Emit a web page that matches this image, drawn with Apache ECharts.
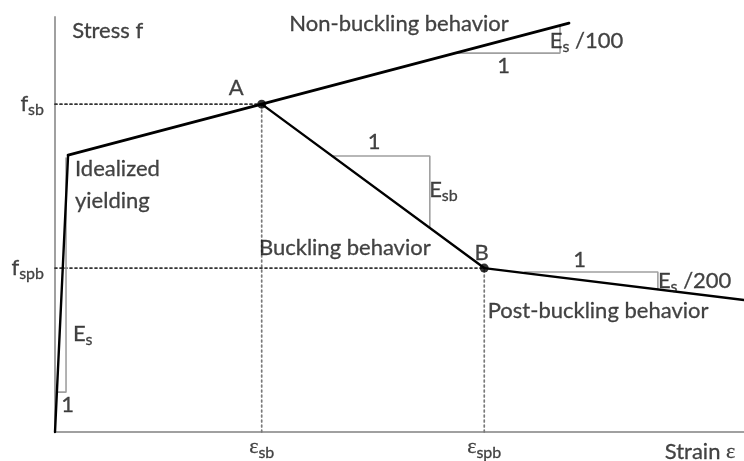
<!DOCTYPE html>
<html>
<head>
<meta charset="utf-8">
<script src="https://cdn.jsdelivr.net/npm/echarts@6/dist/echarts.min.js"></script>
<style>
html, body { margin: 0; padding: 0; background: #fff; }
#chart { width: 744px; height: 461px; }
</style>
</head>
<body>
<div id="chart"></div>
<script>
// Idealized stress-strain model of a steel bar, normalized units (0..100 on both axes)
const elasticBranch = [[0, 0], [1.9, 66.7]];
const hardeningBranch = [[1.9, 66.7], [30, 79], [74.6, 98.5]];
const bucklingBranch = [[30, 79], [62.3, 39.5]];
const postBucklingBranch = [[62.3, 39.5], [100, 31.8]];
const keyPoints = [['A', 30, 79], ['B', 62.3, 39.5]];

// slope triangles: run start, corner, rise end
const slopeEs = [[0.3, 9.6], [1.6, 9.6], [1.6, 66]];
const slopeEsb = [[40.2, 66.5], [54.4, 66.5], [54.4, 49.2]];
const slopeEs100 = [[58.1, 91.3], [73.3, 91.3], [73.3, 97.9]];
const slopeEs200 = [[68.2, 38.55], [87.5, 38.55], [87.5, 34.35]];

// axis tick labels: rich main token, main symbol, subscript, value
const stressTicks = [['t', 'f', 'sb', 79], ['t', 'f', 'spb', 39.5]];
const strainTicks = [['g', 'ε', 'sb', 30], ['g', 'ε', 'spb', 62.3]];

// text annotations: rich text, x, y, align
const annotations = [
  ['Stress f', 2.5, 96.7, 'left'],
  ['Non-buckling behavior', 34, 98.3, 'left'],
  ['A', 26.3, 83.0, 'center'],
  ['B', 61.9, 43.2, 'center'],
  ['Idealized', 2.9, 63.5, 'left'],
  ['yielding', 2.9, 55.7, 'left'],
  ['Buckling behavior', 29.6, 44.4, 'left'],
  ['Post-buckling behavior', 62.8, 29.2, 'left'],
  ['{t|Strain }{g|ε}', 88.5, -4.8, 'left'],
  ['{t|1}', 45.4, 70.0, 'left'],
  ['{t|E}{s|sb}', 54.3, 58.3, 'left'],
  ['{t|1}', 64.2, 88.3, 'left'],
  ['{t|E}{s|s}{t| /100}', 71.8, 94.2, 'left'],
  ['{t|1}', 75.2, 41.4, 'left'],
  ['{t|E}{s|s}{t| /200}', 87.5, 36.4, 'left'],
  ['{t|E}{s|s}', 2.6, 23.6, 'left'],
  ['{t|1}', 0.9, 6.6, 'left']
];

const FONT = 'Lato, "Noto Sans", sans-serif';
const TEXT = '#151515';
const GRAY = '#a0a0a0';

const ink = { color: TEXT, textBorderColor: TEXT, textBorderWidth: 0.3 };
const rich = {
  t: Object.assign({ fontFamily: FONT, fontSize: 22, lineHeight: 24 }, ink),
  g: Object.assign({ fontFamily: '"Liberation Serif", serif', fontSize: 22, lineHeight: 24 }, ink),
  s: Object.assign({ fontFamily: FONT, fontSize: 16, lineHeight: 16, padding: [12, 0, 0, 0] }, ink)
};

function lineSeries(data, color, width, type) {
  return {
    type: 'line', data: data, showSymbol: false, symbol: 'none', silent: true,
    lineStyle: { color: color, width: width, type: type || 'solid', cap: 'round' },
    z: 3
  };
}

const series = [];

// dotted guides from A and B to the axes
keyPoints.forEach(function (p) {
  series.push(lineSeries([[0, p[2]], [p[1], p[2]]], '#333', 1.7, [2, 3]));
  series.push(lineSeries([[p[1], 0], [p[1], p[2]]], '#7a7a7a', 1.7, [2, 3]));
});

// slope triangles
[slopeEs, slopeEsb, slopeEs100, slopeEs200].forEach(function (t) {
  series.push(lineSeries(t, GRAY, 1.6));
});

// stress-strain branches
series.push(lineSeries(elasticBranch, '#000', 2.4));
series.push(lineSeries(hardeningBranch, '#000', 2.8));
series.push(lineSeries(bucklingBranch, '#000', 2.4));
series.push(lineSeries(postBucklingBranch, '#000', 2.4));

// points A and B
series.push({
  type: 'scatter', silent: true, symbolSize: 9, z: 5,
  itemStyle: { color: '#000' },
  data: keyPoints.map(function (p) { return [p[1], p[2]]; })
});

function tickText(t) {
  return '{' + t[0] + '|' + t[1] + '}{s|' + t[2] + '}';
}

// tick labels on the stress axis
series.push({
  type: 'scatter', silent: true, symbolSize: 0, z: 6,
  data: stressTicks.map(function (t) {
    return {
      value: [0, t[3]],
      label: { show: true, position: 'left', distance: 11, formatter: tickText(t), rich: rich }
    };
  })
});

// tick labels on the strain axis
series.push({
  type: 'scatter', silent: true, symbolSize: 0, z: 6,
  data: strainTicks.map(function (t) {
    return {
      value: [t[3], 0],
      label: { show: true, position: 'bottom', distance: 3, formatter: tickText(t), rich: rich }
    };
  })
});

// annotations
series.push({
  type: 'scatter', silent: true, symbolSize: 0, z: 6,
  data: annotations.map(function (a) {
    const txt = a[0].indexOf('{') === 0 ? a[0] : '{t|' + a[0] + '}';
    return {
      value: [a[1], a[2]],
      label: {
        show: true, position: 'inside', align: a[3], verticalAlign: 'middle',
        formatter: txt, rich: rich
      }
    };
  })
});

const chart = echarts.init(document.getElementById('chart'), null, { renderer: 'canvas' });
chart.setOption({
  animation: false,
  backgroundColor: '#fff',
  grid: { left: 55, right: 0, top: 17, bottom: 29, containLabel: false },
  xAxis: {
    type: 'value', min: 0, max: 100,
    axisLine: { show: true, onZero: false, lineStyle: { color: GRAY, width: 2 } },
    axisTick: { show: false }, axisLabel: { show: false }, splitLine: { show: false }
  },
  yAxis: {
    type: 'value', min: 0, max: 100,
    axisLine: { show: true, onZero: false, lineStyle: { color: GRAY, width: 2 } },
    axisTick: { show: false }, axisLabel: { show: false }, splitLine: { show: false }
  },
  series: series.map(function (s) { s.clip = false; return s; })
});
</script>
</body>
</html>
